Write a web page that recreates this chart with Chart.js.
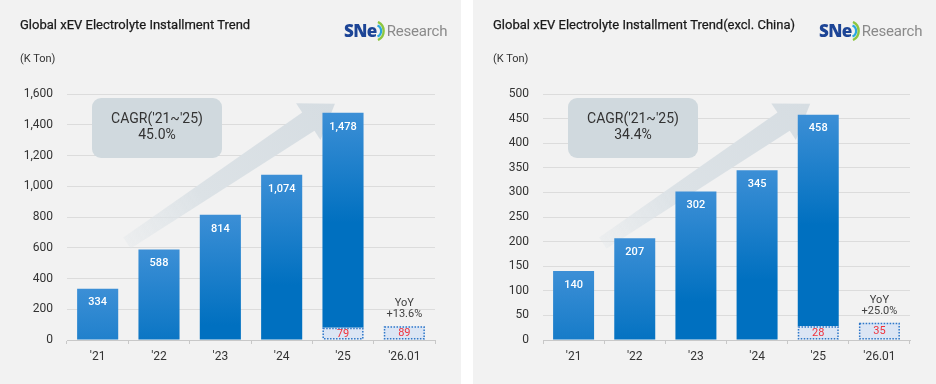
<!DOCTYPE html>
<html>
<head>
<meta charset="utf-8">
<script src="https://cdn.jsdelivr.net/npm/chart.js@4.4.1/dist/chart.umd.min.js"></script>
<style>
  body { margin: 0; width: 936px; height: 384px; background: #fff; position: relative; overflow: hidden; font-family: Roboto, "Liberation Sans", Arial, sans-serif; }
  .painel { position: absolute; top: 0; height: 384px; background: #f2f2f2; }
  #painel1 { left: 0; width: 461px; }
  #painel2 { left: 473px; width: 463px; }
  .titulo { position: absolute; left: 20px; top: 17px; font-size: 13px; font-weight: 400; color: #1a1a1a; white-space: nowrap; -webkit-text-stroke: 0.25px #1a1a1a; }
  .unidade { position: absolute; left: 20px; top: 52px; font-size: 11px; color: #333; }
  .logo { position: absolute; top: 19px; height: 22px; white-space: nowrap; }
  .logo .sne { font-family: "Open Sans", sans-serif; font-weight: 800; font-size: 17px; color: #1d4596; letter-spacing: -0.6px; vertical-align: middle; }
  .logo svg { vertical-align: middle; margin: 0 1px 0 0; }
  .logo .res { font-family: Roboto, sans-serif; font-size: 15px; color: #8a8a8a; vertical-align: middle; letter-spacing: -0.2px; }
  canvas { position: absolute; left: 0; top: 0; }
</style>
</head>
<body>
<div class="painel" id="painel1">
  <canvas id="grafico1" width="461" height="384"></canvas>
  <div class="titulo">Global xEV Electrolyte Installment Trend</div>
  <div class="unidade">(K Ton)</div>
  <div class="logo" style="left:344px"><span class="sne">SNe</span><svg width="9" height="20" viewBox="0 0 9 20"><path d="M1 1 A 10 10 0 0 1 1 19" fill="none" stroke="#8cc63f" stroke-width="2.4"/><path d="M0.5 4.5 A 6 6 0 0 1 0.5 15.5" fill="none" stroke="#2aa7df" stroke-width="2.2"/></svg><span class="res">Research</span></div>
</div>
<div class="painel" id="painel2">
  <canvas id="grafico2" width="463" height="384"></canvas>
  <div class="titulo">Global xEV Electrolyte Installment Trend(excl. China)</div>
  <div class="unidade">(K Ton)</div>
  <div class="logo" style="left:346px"><span class="sne">SNe</span><svg width="9" height="20" viewBox="0 0 9 20"><path d="M1 1 A 10 10 0 0 1 1 19" fill="none" stroke="#8cc63f" stroke-width="2.4"/><path d="M0.5 4.5 A 6 6 0 0 1 0.5 15.5" fill="none" stroke="#2aa7df" stroke-width="2.2"/></svg><span class="res">Research</span></div>
</div>

<script>
// dados
const categorias = ["'21", "'22", "'23", "'24", "'25", "'26.01"];

const totalGlobal = [334, 588, 814, 1074, 1478, null];
const janeiroGlobal = [null, null, null, null, 79, 89];
const ticksGlobal = [0, 200, 400, 600, 800, 1000, 1200, 1400, 1600];

const totalExChina = [140, 207, 302, 345, 458, null];
const janeiroExChina = [null, null, null, null, 28, 35];
const ticksExChina = [0, 50, 100, 150, 200, 250, 300, 350, 400, 450, 500];

const cagrTextos = ["CAGR('21~'25)", "45.0%", "34.4%"];
const yoyTextos = ["YoY", "+13.6%", "+25.0%"];

const fonte = 'Roboto, "Liberation Sans", Arial, sans-serif';

function desenharSeta(ctx, x1, y1, x2, y2) {
  const dx = x2 - x1, dy = y2 - y1;
  const len = Math.hypot(dx, dy);
  const ux = dx / len, uy = dy / len;
  const nx = -uy, ny = ux;
  const corpo = 11, cabeca = 22, compCabeca = 32;
  const bx = x2 - ux * compCabeca, by = y2 - uy * compCabeca;
  const g = ctx.createLinearGradient(x1, y1, x2, y2);
  g.addColorStop(0, "rgba(222,228,232,0.3)");
  g.addColorStop(0.35, "rgba(220,226,230,1)");
  g.addColorStop(1, "rgba(214,221,226,1)");
  ctx.save();
  ctx.fillStyle = g;
  ctx.beginPath();
  ctx.moveTo(x1 + nx * corpo * 0.6, y1 + ny * corpo * 0.6);
  ctx.lineTo(bx + nx * corpo, by + ny * corpo);
  ctx.lineTo(bx + nx * cabeca, by + ny * cabeca);
  ctx.lineTo(x2, y2);
  ctx.lineTo(bx - nx * cabeca, by - ny * cabeca);
  ctx.lineTo(bx - nx * corpo, by - ny * corpo);
  ctx.lineTo(x1 - nx * corpo * 0.6, y1 - ny * corpo * 0.6);
  ctx.closePath();
  ctx.fill();
  ctx.restore();
}

function caixaArredondada(ctx, x, y, w, h, r) {
  ctx.beginPath();
  ctx.moveTo(x + r, y);
  ctx.arcTo(x + w, y, x + w, y + h, r);
  ctx.arcTo(x + w, y + h, x, y + h, r);
  ctx.arcTo(x, y + h, x, y, r);
  ctx.arcTo(x, y, x + w, y, r);
  ctx.closePath();
}

function criarGrafico(id, totais, janeiro, ticks, cagr, yoy) {
  const resto = totais.map((v, i) => (v == null ? null : v - (janeiro[i] || 0)));

  const fundoPlugin = {
    id: "fundo",
    beforeDatasetsDraw(chart) {
      const { ctx, chartArea: a } = chart;
      const w = a.right - a.left, h = a.bottom - a.top;
      desenharSeta(ctx, a.left + w * 0.163, a.top + h * 0.606, a.left + w * 0.728, a.top + h * 0.04);
      const bx = a.left + 25, by = a.top + 4;
      ctx.save();
      ctx.fillStyle = "#d0d9de";
      caixaArredondada(ctx, bx, by, 130, 60, 9);
      ctx.fill();
      ctx.fillStyle = "#333";
      ctx.font = "14px " + fonte;
      ctx.textAlign = "center";
      ctx.textBaseline = "middle";
      ctx.fillText(cagrTextos[0], bx + 65, by + 21);
      ctx.fillText(cagr, bx + 65, by + 37);
      ctx.restore();
    },
  };

  const rotulosPlugin = {
    id: "rotulos",
    afterDatasetsDraw(chart) {
      const { ctx } = chart;
      const metaJan = chart.getDatasetMeta(0);
      const metaResto = chart.getDatasetMeta(1);
      ctx.save();
      ctx.textAlign = "center";
      ctx.textBaseline = "middle";
      metaResto.data.forEach((bar, i) => {
        if (totais[i] == null) return;
        ctx.fillStyle = "#fff";
        ctx.font = "500 11px " + fonte;
        ctx.fillText(totais[i].toLocaleString("en-US"), bar.x, bar.y + 14);
      });
      metaJan.data.forEach((bar, i) => {
        if (janeiro[i] == null) return;
        const w = bar.width;
        ctx.strokeStyle = "#2f78c8";
        ctx.lineWidth = 1.5;
        ctx.setLineDash([1.5, 1.5]);
        ctx.strokeRect(bar.x - w / 2 + 0.75, bar.y + 0.75, w - 1.5, bar.base - bar.y - 1.5);
        ctx.setLineDash([]);
        ctx.fillStyle = "#f0323c";
        ctx.font = "11px " + fonte;
        ctx.fillText(String(janeiro[i]), bar.x, (bar.y + bar.base) / 2 + 0.5);
        if (totais[i] == null) {
          ctx.fillStyle = "#404040";
          ctx.font = "11px " + fonte;
          ctx.fillText(yoyTextos[0], bar.x, bar.y - 23);
          ctx.fillText(yoy, bar.x, bar.y - 12);
        }
      });
      ctx.restore();
    },
  };

  return new Chart(document.getElementById(id), {
    type: "bar",
    data: {
      labels: categorias,
      datasets: [
        {
          label: "janeiro",
          data: janeiro,
          backgroundColor: "#dbe5f4",
          barPercentage: 0.67,
          categoryPercentage: 1,
        },
        {
          label: "total",
          data: resto,
          backgroundColor: (c) => {
            const { ctx, chartArea, scales } = c.chart;
            if (!chartArea || totais[c.dataIndex] == null) return "#0070c0";
            const topo = scales.y.getPixelForValue(totais[c.dataIndex]);
            const g = ctx.createLinearGradient(0, topo, 0, topo + 110);
            g.addColorStop(0, "#3c8fd6");
            g.addColorStop(1, "#0070c0");
            return g;
          },
          barPercentage: 0.67,
          categoryPercentage: 1,
        },
      ],
    },
    options: {
      responsive: false,
      animation: false,
      layout: { padding: { top: 94, right: 26, bottom: 0, left: 0 } },
      plugins: { legend: { display: false }, tooltip: { enabled: false } },
      scales: {
        x: {
          stacked: true,
          afterFit: (s) => { s.height = 44; },
          grid: { offset: true, drawOnChartArea: false, tickLength: 4, color: "#c8c8c8" },
          border: { color: "#c8c8c8" },
          ticks: { color: "#333", font: { family: fonte, size: 12 }, padding: 6 },
        },
        y: {
          stacked: true,
          min: ticks[0],
          max: ticks[ticks.length - 1],
          afterFit: (s) => { s.width = id === "grafico1" ? 67 : 70; },
          afterBuildTicks: (s) => { s.ticks = ticks.map((v) => ({ value: v })); },
          grid: { color: "#dcdcdc", drawTicks: false },
          border: { display: false },
          ticks: {
            color: "#333",
            font: { family: fonte, size: 12 },
            padding: 14,
            callback: (v) => v.toLocaleString("en-US"),
          },
        },
      },
    },
    plugins: [fundoPlugin, rotulosPlugin],
  });
}

criarGrafico("grafico1", totalGlobal, janeiroGlobal, ticksGlobal, cagrTextos[1], yoyTextos[1]);
criarGrafico("grafico2", totalExChina, janeiroExChina, ticksExChina, cagrTextos[2], yoyTextos[2]);
</script>
</body>
</html>
